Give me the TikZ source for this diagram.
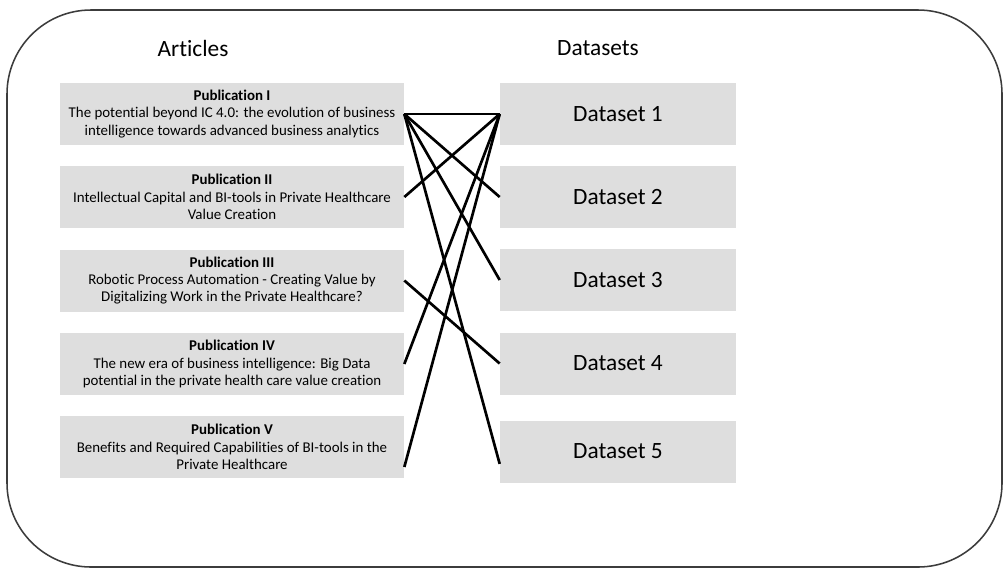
\documentclass[tikz,border=0pt]{standalone}
\usepackage{fontspec}
\setmainfont{Carlito}[Ligatures=NoCommon]
\definecolor{boxgray}{HTML}{DEDEDE}
\definecolor{framegray}{HTML}{3C3C3C}
\tikzset{
  pubbox/.style={fill=boxgray, minimum width=8.6cm, minimum height=1.55cm, inner sep=0pt, align=center, font=\fontsize{10.6}{12.4}\selectfont},
  databox/.style={fill=boxgray, minimum width=5.9cm, minimum height=1.55cm, inner sep=0pt, font=\fontsize{16.6}{20}\selectfont},
  heading/.style={font=\fontsize{16.6}{20}\selectfont},
  link/.style={black, line width=1.9pt}
}
\begin{document}
\begin{tikzpicture}[x=0.025cm, y=-0.025cm]
            \useasboundingbox (0,0) rectangle (1003,568);
            \draw[framegray, line width=1.1pt, rounded corners=2.1cm] (7,10) rectangle (1002,567);
            \node[heading] (articles) at (193,48) {Articles};
            \node[heading] (datasets) at (598,48) {Datasets};
            \node[pubbox] (p1) at (232,114) {\textbf{Publication I}\\The potential beyond IC 4.0: the evolution of business\\intelligence towards advanced business analytics};
            \node[pubbox] (p2) at (232,197) {\textbf{Publication II}\\Intellectual Capital and BI-tools in Private Healthcare\\Value Creation};
            \node[pubbox] (p3) at (232,280.5) {\textbf{Publication III}\\Robotic Process Automation - Creating Value by\\Digitalizing Work in the Private Healthcare?};
            \node[pubbox] (p4) at (232,364) {\textbf{Publication IV}\\The new era of business intelligence: Big Data\\potential in the private health care value creation};
            \node[pubbox] (p5) at (232,447) {\textbf{Publication V}\\Benefits and Required Capabilities of BI-tools in the\\Private Healthcare};
            \node[databox] (d1) at (618,114) {Dataset 1};
            \node[databox] (d2) at (618,197) {Dataset 2};
            \node[databox] (d3) at (618,280) {Dataset 3};
            \node[databox] (d4) at (618,363.5) {Dataset 4};
            \node[databox] (d5) at (618,451.5) {Dataset 5};
            \draw[link] (p1.east) -- (d1.west);
            \draw[link] (p1.east) -- (d2.west);
            \draw[link] (p1.east) -- (d3.west);
            \draw[link] (p1.east) -- ([yshift=-0.31cm]d5.west);
            \draw[link] (p2.east) -- (d1.west);
            \draw[link] (p3.east) -- (d4.west);
            \draw[link] (p4.east) -- (d1.west);
            \draw[link] ([yshift=-0.5cm]p5.east) -- (d1.west);
\end{tikzpicture}
\end{document}
